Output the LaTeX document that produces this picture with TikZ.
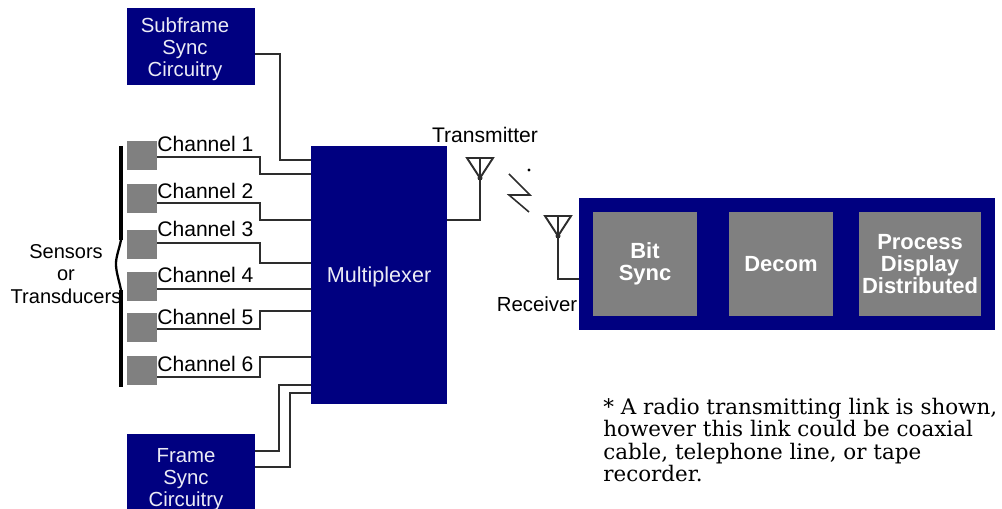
\documentclass[tikz,border=0pt]{standalone}
\usepackage{fontspec}
\setmainfont{Liberation Sans}
\newfontfamily\notefont{DejaVu Serif}
\definecolor{boxblue}{RGB}{0,0,128}
\definecolor{boxgrey}{RGB}{128,128,128}
\definecolor{wire}{RGB}{45,45,45}
\tikzset{
  bluebox/.style={draw=none, fill=boxblue, text=white!92!boxblue, inner sep=0pt, align=center, font=\fontsize{11.6}{12.5}\selectfont},
  bluetext/.style={text=white!92!boxblue, inner sep=0pt, align=center, font=\fontsize{11.6}{12.5}\selectfont},
  greybox/.style={draw=none, fill=boxgrey, text=white, inner sep=0pt, align=center, font=\fontsize{12.5}{12.5}\selectfont\bfseries},
  sensor/.style={draw=none, fill=boxgrey, minimum width=30*0.02cm, minimum height=29*0.02cm, inner sep=0pt},
  label/.style={inner sep=0pt, font=\fontsize{12}{13}\selectfont},
  wireline/.style={draw=wire, line width=1.1pt}
}

\begin{document}
\begin{tikzpicture}[x=0.02cm,y=-0.02cm]
  \useasboundingbox (0,0) rectangle (1002,509);
  \clip (0,0) rectangle (1002,509);

  \node[bluebox, minimum width=128*0.02cm, minimum height=77*0.02cm] (subframe) at (191,46.5) {};
  \node[bluetext] (subframetext) at (185,49.5) {Subframe\\Sync\\Circuitry};
  \node[bluebox, minimum width=128*0.02cm, minimum height=78*0.02cm] (frame) at (191,473) {};
  \node[bluetext] (frametext) at (186,480) {Frame\\Sync\\Circuitry};
  \node[bluebox, minimum width=136*0.02cm, minimum height=258*0.02cm, text depth=0pt, font=\fontsize{12.3}{13}\selectfont] (mux) at (379,275) {Multiplexer};
  \node[fill=boxblue, inner sep=0pt, minimum width=416*0.02cm, minimum height=132*0.02cm] (rx) at (787,264) {};
  \node[greybox, minimum width=104*0.02cm, minimum height=104*0.02cm] (bit) at (645,264) {Bit\\Sync};
  \node[greybox, minimum width=104*0.02cm, minimum height=104*0.02cm] (decom) at (781,264) {Decom};
  \node[greybox, minimum width=122*0.02cm, minimum height=104*0.02cm] (process) at (920,264) {Process\\Display\\Distributed};

  % sensors, their labels and the wires to the multiplexer
  \foreach \n/\y/\w/\m in {1/156/157/174, 2/198.5/203/220, 3/244.5/243/263, 4/286.5/289/289, 5/327.5/329/311, 6/370.5/377/357} {
    \node[sensor] (sensor\n) at (142,\y) {};
    \coordinate (tap\n) at (157,\w);
    \draw[wireline] (tap\n) -- (260,\w) -- (260,\m) -- (mux.west |- 0,\m);
  }
  \foreach \n/\y in {1/144, 2/191, 3/229, 4/275, 5/317, 6/364}
    \node[label, anchor=west] (channel\n) at (157,\y) {Channel \n};

  \draw[line width=1.9pt] (121,146) -- (121,240);
  \draw[line width=1.9pt] (121,290) -- (121,387);
  \draw[line width=1.3pt] (121,240) .. controls (119,250) and (116,256) .. (116,264)
    .. controls (116,272) and (119,280) .. (121,290);
  \node[label, align=center, font=\fontsize{11.4}{13}\selectfont] (sensors) at (66,274) {Sensors\\or\\Transducers};

  \draw[wireline] (subframe.east |- 0,54) -- (280,54) -- (280,160) -- (mux.west |- 0,160);
  \draw[wireline] (frame.east |- 0,451) -- (279,451) -- (279,385) -- (mux.west |- 0,385);
  \draw[wireline] (frame.east |- 0,467) -- (290,467) -- (290,393) -- (mux.west |- 0,393);

  % antennas
  \coordinate (txtip) at (480,178);
  \coordinate (rxtip) at (558,236);
  \draw[wireline] (txtip) -- (467,158) -- (493,158) -- cycle (txtip) -- (480,158);
  \draw[wireline] (rxtip) -- (545,216) -- (571,216) -- cycle (rxtip) -- (558,216);
  \draw[wireline] (mux.east |- 0,220) -- (480,220) -- (txtip);
  \draw[wireline] (rxtip) -- (558,279) -- (rx.west |- 0,279);
  \fill[wire] (txtip) circle (2.5);
  \fill[wire] (rxtip) circle (2.5);
  \node[label] (transmitter) at (485,135) {Transmitter};
  \node[label, font=\fontsize{11.6}{13}\selectfont] (receiver) at (537,304) {Receiver};

  \draw[wireline, line width=0.9pt] (509,174) -- (530,195) -- (509,195) -- (529,212);
  \fill[black] (529,170) circle (1.7);

  \node[inner sep=0pt, anchor=north west, align=left, font=\notefont\fontsize{12.2}{12.7}\selectfont] (note) at (603,398)
    {* A radio transmitting link is shown,\\however this link could be coaxial\\cable, telephone line, or tape\\recorder.};
\end{tikzpicture}
\end{document}
